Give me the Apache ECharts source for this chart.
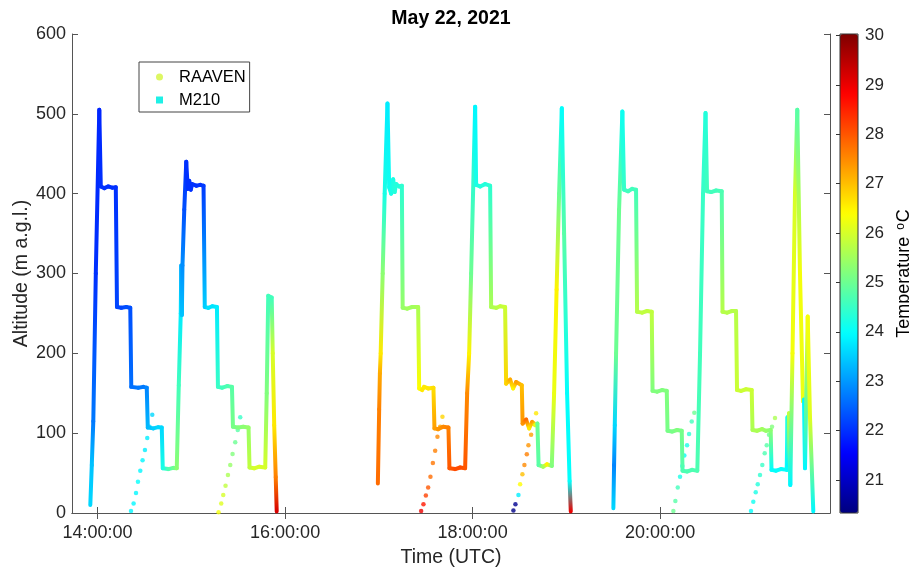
<!DOCTYPE html>
<html>
<head>
<meta charset="utf-8">
<script src="https://cdn.jsdelivr.net/npm/echarts@6/dist/echarts.min.js"></script>
<style>
  html, body { margin: 0; padding: 0; background: #fff; }
  #chart { width: 909px; height: 568px; }
</style>
</head>
<body>
<div id="chart"></div>
<script>
// Vertical profiles of air temperature from two UAS platforms, 22 May 2021.
// Each point: [time (UTC), altitude (m a.g.l.), temperature (°C)]

// RAAVEN fixed-wing ascents
const raavenProfile1 = [
  ['14:21:22', 2.5, 23.9], ['14:23:02', 12, 23.9], ['14:24:34', 25, 23.9], ['14:25:50', 39, 24.0],
  ['14:27:19', 53, 23.9], ['14:28:47', 66, 23.9], ['14:30:19', 79, 23.8], ['14:31:47', 94, 23.8],
  ['14:33:16', 108, 23.7], ['14:34:59', 123, 23.6]
];
const raavenProfile2 = [
  ['15:17:24', 1, 26.3], ['15:19:08', 12, 26.1], ['15:20:25', 22.5, 26.0], ['15:21:53', 34, 25.8],
  ['15:23:25', 47.6, 25.6], ['15:24:53', 60, 25.4], ['15:26:22', 74, 25.2], ['15:28:05', 88.6, 25.0],
  ['15:29:41', 104, 24.8], ['15:31:17', 120, 24.5]
];
const raavenProfile3 = [
  ['17:27:04', 2.5, 29.0], ['17:28:32', 11, 28.6], ['17:30:05', 22, 28.2], ['17:31:33', 32, 28.0],
  ['17:33:01', 45.5, 27.8], ['17:34:34', 62.5, 27.7], ['17:36:02', 78, 27.6], ['17:37:30', 95.6, 27.5],
  ['17:39:13', 108, 27.2], ['17:40:42', 120.6, 26.8]
];
const raavenProfile4 = [
  ['18:26:07', 3, 20.4], ['18:27:24', 11, 20.5], ['18:29:19', 22.5, 23.8], ['18:30:24', 36, 26.4],
  ['18:31:52', 48.5, 27.0], ['18:33:09', 60, 27.5], ['18:34:41', 73.5, 27.6], ['18:35:43', 85, 27.4],
  ['18:37:26', 98, 27.3], ['18:39:02', 112, 27.5], ['18:40:38', 125, 26.6]
];
const raavenProfile5 = [
  ['20:08:28', 2.5, 25.0], ['20:09:45', 15, 24.8], ['20:11:17', 32, 24.6], ['20:12:45', 45.5, 24.2],
  ['20:14:13', 59, 24.0], ['20:15:30', 72, 24.0], ['20:17:14', 85, 24.2], ['20:18:31', 99, 24.4],
  ['20:20:14', 114.5, 24.6], ['20:21:54', 125.5, 25.0]
];
const raavenProfile6 = [
  ['20:58:10', 2.5, 24.0], ['20:59:38', 14, 24.1], ['21:01:11', 26, 24.2], ['21:02:28', 36, 24.3],
  ['21:03:56', 47.6, 24.4], ['21:05:24', 60, 24.5], ['21:06:56', 75, 24.7], ['21:08:13', 85, 24.8],
  ['21:09:41', 98, 25.0], ['21:11:37', 108, 25.2], ['21:13:32', 119, 25.6]
];

// M210 multirotor flights (stepped hover profiles)
const m210Flight1 = [
  ['13:55:20', 10, 23.6], ['13:56:17', 60, 23.4], ['13:57:15', 115, 22.7], ['13:58:51', 300, 22.0],
  ['14:01:05', 505, 21.9], ['14:02:03', 409, 22.0], ['14:04:17', 407, 22.0], ['14:06:51', 409, 22.0],
  ['14:09:24', 407.5, 22.0], ['14:11:39', 408, 22.0], ['14:12:25', 258, 22.2], ['14:15:10', 257, 22.2],
  ['14:18:22', 258, 22.3], ['14:20:55', 257, 22.3], ['14:21:33', 158, 22.6], ['14:26:02', 157, 22.7],
  ['14:29:14', 158, 22.7], ['14:31:28', 157, 22.8], ['14:32:07', 107, 23.3], ['14:35:38', 106, 23.5],
  ['14:38:50', 107.5, 23.6], ['14:41:04', 107, 23.6], ['14:41:42', 56, 24.2], ['14:45:14', 55, 24.7],
  ['14:48:26', 56.5, 25.0], ['14:50:40', 56, 25.3], ['14:51:57', 160, 24.6], ['14:53:13', 250, 23.8],
  ['14:53:33', 310, 23.2], ['14:53:56', 248, 23.4], ['14:54:19', 310, 22.9], ['14:55:28', 380, 22.3],
  ['14:56:44', 440, 22.0], ['14:57:42', 406, 22.0], ['14:58:40', 416, 22.0], ['14:59:37', 405, 22.0],
  ['15:00:35', 412, 22.0], ['15:03:08', 410, 22.0], ['15:05:42', 411, 22.0], ['15:07:48', 410, 22.1],
  ['15:08:35', 258, 23.5], ['15:10:49', 257, 23.7], ['15:13:22', 259, 23.7], ['15:16:23', 258, 23.8],
  ['15:17:01', 158, 24.5], ['15:19:46', 157, 24.6], ['15:22:58', 159, 24.7], ['15:25:59', 158, 24.8],
  ['15:26:37', 108, 25.1], ['15:30:00', 107, 25.2], ['15:33:12', 108, 25.3], ['15:36:36', 107, 25.4],
  ['15:37:14', 57, 25.8], ['15:40:14', 56, 26.0], ['15:43:26', 58, 26.0], ['15:47:17', 57, 26.0],
  ['15:48:14', 150, 25.2], ['15:49:12', 272, 24.6], ['15:51:26', 270, 24.6], ['15:52:05', 200, 26.0],
  ['15:53:02', 110, 26.6], ['15:54:00', 45, 27.6], ['15:54:38', 2, 29.2]
];
const m210Flight2 = [
  ['16:59:22', 37, 27.8], ['17:00:12', 130, 27.6], ['17:00:40', 175, 27.2], ['17:01:10', 200, 26.6],
  ['17:02:27', 300, 25.3], ['17:03:43', 400, 24.2], ['17:05:31', 513, 23.8], ['17:06:36', 408, 24.1],
  ['17:07:53', 400, 24.2], ['17:09:10', 418, 24.2], ['17:10:07', 402, 24.3], ['17:11:05', 412, 24.3],
  ['17:13:00', 409, 24.3], ['17:14:44', 410, 24.4], ['17:15:14', 257, 25.4], ['17:18:07', 256, 25.5],
  ['17:21:19', 258, 25.5], ['17:25:09', 258, 25.6], ['17:25:48', 156, 26.4], ['17:27:43', 154, 26.6],
  ['17:28:59', 158, 26.6], ['17:31:33', 156, 26.6], ['17:34:56', 157, 26.7], ['17:35:35', 106, 27.3],
  ['17:37:57', 105, 27.4], ['17:41:09', 108, 27.5], ['17:44:32', 107, 27.6], ['17:45:10', 56, 28.0],
  ['17:48:49', 55, 28.1], ['17:52:01', 57, 28.1], ['17:55:13', 56, 28.0], ['17:56:30', 150, 27.5],
  ['17:57:47', 200, 26.5], ['17:59:03', 300, 25.0], ['18:01:37', 509, 23.9], ['18:02:15', 411, 24.2],
  ['18:04:49', 409, 24.3], ['18:08:01', 412, 24.3], ['18:11:13', 410, 24.4], ['18:11:51', 258, 25.6],
  ['18:15:03', 257, 25.7], ['18:17:36', 259, 25.8], ['18:20:48', 258, 25.9], ['18:21:27', 162, 26.8],
  ['18:24:00', 167, 27.2], ['18:25:55', 156, 26.5], ['18:27:51', 164, 27.3], ['18:31:29', 160, 27.0],
  ['18:32:00', 112, 27.4], ['18:34:14', 117, 27.8], ['18:36:10', 106, 26.6], ['18:38:05', 114, 27.3],
  ['18:40:00', 110, 26.2], ['18:41:28', 112, 25.0], ['18:42:14', 60, 24.8], ['18:45:07', 58, 25.5],
  ['18:47:40', 61, 26.5], ['18:50:41', 59, 25.2], ['18:52:09', 150, 26.2], ['18:53:45', 280, 26.5],
  ['18:55:21', 400, 25.0], ['18:57:05', 507, 24.0], ['18:58:33', 350, 24.8], ['19:00:28', 150, 24.0],
  ['19:02:04', 40, 24.0], ['19:02:50', 2, 29.0]
];
const m210Flight3 = [
  ['19:30:05', 6, 23.6], ['19:30:32', 60, 22.8], ['19:30:59', 110, 23.6], ['19:31:49', 200, 25.0],
  ['19:33:44', 380, 25.0], ['19:35:51', 503, 24.1], ['19:36:56', 405, 24.5], ['19:39:29', 403, 24.6],
  ['19:42:03', 406, 24.6], ['19:44:36', 405, 24.6], ['19:45:15', 252, 25.7], ['19:48:27', 251, 25.8],
  ['19:51:39', 253, 25.8], ['19:54:39', 252, 25.8], ['19:55:10', 153, 25.2], ['19:58:02', 152, 25.2],
  ['20:01:14', 154, 25.2], ['20:04:15', 153, 25.2], ['20:04:45', 103, 25.1], ['20:07:38', 102, 25.1],
  ['20:10:50', 104, 25.2], ['20:13:50', 103, 25.1], ['20:14:21', 53, 24.7], ['20:17:14', 52, 24.7],
  ['20:20:26', 54, 24.7], ['20:23:49', 53, 24.7], ['20:25:33', 200, 24.6], ['20:27:28', 400, 24.5],
  ['20:29:04', 501, 24.3], ['20:30:02', 403, 24.6], ['20:32:35', 402, 24.6], ['20:35:47', 404, 24.6],
  ['20:39:26', 403, 24.7], ['20:39:56', 252, 25.7], ['20:42:49', 251, 25.7], ['20:46:01', 253, 25.7],
  ['20:48:35', 253, 25.7], ['20:49:13', 154, 25.9], ['20:51:47', 153, 25.9], ['20:54:58', 155, 25.9],
  ['20:58:37', 154, 25.9], ['20:59:08', 104, 25.6], ['21:02:01', 103, 25.6], ['21:05:13', 105, 25.5],
  ['21:07:46', 103, 25.4], ['21:10:46', 104, 25.3], ['21:11:17', 54, 24.0], ['21:14:10', 53, 24.0],
  ['21:17:22', 55, 24.0], ['21:21:01', 54, 24.0], ['21:21:31', 120, 24.2], ['21:22:02', 60, 23.9],
  ['21:22:29', 125, 25.8], ['21:23:19', 35, 23.9], ['21:24:43', 200, 26.3], ['21:26:19', 400, 26.0],
  ['21:27:47', 505, 24.8], ['21:29:31', 300, 26.3], ['21:31:26', 140, 26.2], ['21:32:05', 142, 23.9],
  ['21:32:43', 56, 23.9], ['21:34:27', 246, 26.3], ['21:35:55', 120, 26.1], ['21:38:02', 2, 23.9]
];

// Axis ticks
const timeTicks = [14, 16, 18, 20];               // hours UTC
const altitudeTicks = [0, 100, 200, 300, 400, 500, 600];
const tempTicks = [21, 22, 23, 24, 25, 26, 27, 28, 29, 30];
const timeRange = [13.727, 21.812];
const tempRange = [20.33, 30.03];

// Jet colour map shared by the colour bar and the M210 tracks
const JET = ['#00007f', '#0000ff', '#007fff', '#00ffff', '#7fff7f', '#ffff00', '#ff7f00', '#ff0000', '#7f0000'];
function hexToRgb(h) { return [1, 3, 5].map(i => parseInt(h.substr(i, 2), 16)); }
const JET_RGB = JET.map(hexToRgb);
function jet(t) {
  let v = (t - tempRange[0]) / (tempRange[1] - tempRange[0]);
  v = Math.max(0, Math.min(1, v));
  const p = v * (JET_RGB.length - 1);
  const i = Math.min(JET_RGB.length - 2, Math.floor(p));
  const f = p - i;
  const a = JET_RGB[i], b = JET_RGB[i + 1];
  const c = a.map((x, k) => Math.round(x + (b[k] - x) * f));
  return 'rgb(' + c.join(',') + ')';
}

function toHours(s) {
  const [h, m, sec] = s.split(':').map(Number);
  return h + m / 60 + sec / 3600;
}
function parse(arr) { return arr.map(d => [toHours(d[0]), d[1], d[2]]); }

const raavenData = [].concat(
  parse(raavenProfile1), parse(raavenProfile2), parse(raavenProfile3),
  parse(raavenProfile4), parse(raavenProfile5), parse(raavenProfile6)
);
const m210Flights = [m210Flight1, m210Flight2, m210Flight3].map(parse);

// Each data item draws the segment to the next sample, shaded by temperature
function trackRenderer(points) {
  return function (params, api) {
    const i = params.dataIndex;
    if (i >= points.length - 1) return null;
    const a = api.coord([api.value(0), api.value(1)]);
    const b = api.coord([points[i + 1][0], points[i + 1][1]]);
    return {
      type: 'line',
      shape: { x1: a[0], y1: a[1], x2: b[0], y2: b[1] },
      style: {
        stroke: {
          type: 'linear', global: true,
          x: a[0], y: a[1], x2: b[0], y2: b[1] + 0.001,
          colorStops: [
            { offset: 0, color: jet(api.value(2)) },
            { offset: 1, color: jet(points[i + 1][2]) }
          ]
        },
        lineWidth: 4,
        lineCap: 'round',
        lineJoin: 'round'
      }
    };
  };
}

const FONT = '"Liberation Sans", Arial, Helvetica, sans-serif';
const INK = '#262626';
const AXIS_LINE = { show: true, lineStyle: { color: '#555', width: 1 } };

const pad2 = n => String(n).padStart(2, '0');

const chart = echarts.init(document.getElementById('chart'), null, { renderer: 'canvas' });

const series = [
  {
    name: 'RAAVEN',
    type: 'scatter',
    data: raavenData,
    symbol: 'circle',
    symbolSize: 4.5,
    itemStyle: { color: '#d4f53c' },
    z: 2,
    silent: true
  }
].concat(m210Flights.map(pts => ({
  name: 'M210',
  type: 'custom',
  data: pts,
  encode: { x: 0, y: 1 },
  renderItem: trackRenderer(pts),
  itemStyle: { color: '#1ef0e6' },
  z: 3,
  silent: true
})));

chart.setOption({
  animation: false,
  backgroundColor: '#fff',
  textStyle: { fontFamily: FONT },
  title: {
    text: 'May 22, 2021',
    left: 451,
    textAlign: 'center',
    top: 9,
    padding: 0,
    textStyle: { fontFamily: FONT, fontSize: 19.5, fontWeight: 'bold', color: '#000' }
  },
  legend: {
    orient: 'vertical',
    left: 139,
    top: 62,
    padding: [6, 4, 3, 17],
    itemGap: 5,
    itemWidth: 7,
    itemHeight: 7,
    borderColor: '#444',
    borderWidth: 1,
    backgroundColor: '#fff',
    data: [
      { name: 'RAAVEN', icon: 'circle', itemStyle: { color: '#d4f53c' } },
      { name: 'M210', icon: 'rect', itemStyle: { color: '#1ef0e6' } }
    ],
    textStyle: { fontFamily: FONT, fontSize: 16.5, color: '#000', lineHeight: 18, padding: [0, 0, 0, 11] }
  },
  grid: [
    { left: 72, right: 79, top: 34, bottom: 55, outerBoundsMode: 'none' },
    { left: 840, width: 18, top: 34, height: 479, outerBoundsMode: 'none',
      show: true, borderColor: '#333', borderWidth: 1, backgroundColor: 'rgba(0,0,0,0)', z: 6 }
  ],
  xAxis: [
    {
      type: 'value', gridIndex: 0, min: timeRange[0], max: timeRange[1],
      name: 'Time (UTC)', nameLocation: 'middle', nameGap: 35, nameMoveOverlap: false,
      nameTextStyle: { fontFamily: FONT, fontSize: 19.5, color: INK },
      axisLine: AXIS_LINE,
      axisTick: { show: true, inside: true, length: 6, customValues: timeTicks, lineStyle: { color: '#555' } },
      axisLabel: { customValues: timeTicks, margin: 11, fontFamily: FONT, fontSize: 18, color: INK,
        formatter: v => pad2(Math.round(v)) + ':00:00' },
      splitLine: { show: false }
    },
    {
      type: 'value', gridIndex: 0, position: 'top', min: timeRange[0], max: timeRange[1],
      axisLine: AXIS_LINE,
      axisTick: { show: true, inside: true, length: 6, customValues: timeTicks, lineStyle: { color: '#555' } },
      axisLabel: { show: false },
      splitLine: { show: false }
    },
    {
      type: 'value', gridIndex: 1, min: 0, max: 1, show: false
    }
  ],
  yAxis: [
    {
      type: 'value', gridIndex: 0, min: 0, max: 600, interval: 100,
      name: 'Altitude (m a.g.l.)', nameLocation: 'middle', nameGap: 40, nameMoveOverlap: false,
      nameTextStyle: { fontFamily: FONT, fontSize: 19.5, color: INK },
      axisLine: AXIS_LINE,
      axisTick: { show: true, inside: true, length: 6, lineStyle: { color: '#555' } },
      axisLabel: { margin: 6, fontFamily: FONT, fontSize: 18, color: INK,
        formatter: v => altitudeTicks.includes(v) ? String(v) : '' },
      splitLine: { show: false }
    },
    {
      type: 'value', gridIndex: 0, position: 'right', min: 0, max: 600, interval: 100,
      axisLine: AXIS_LINE,
      axisTick: { show: true, inside: true, length: 6, lineStyle: { color: '#555' } },
      axisLabel: { show: false },
      splitLine: { show: false }
    },
    {
      type: 'value', gridIndex: 1, position: 'right', min: tempRange[0], max: tempRange[1],
      name: 'Temperature {sup|o}C', nameLocation: 'middle', nameGap: 37, nameRotate: 90, nameMoveOverlap: false,
      nameTextStyle: { fontFamily: FONT, fontSize: 18, color: '#000',
        rich: { sup: { fontFamily: FONT, fontSize: 12, color: '#000', verticalAlign: 'top', padding: [0, 1, 7, 2] } } },
      axisLine: { show: false },
      axisTick: { show: true, inside: true, length: 4, customValues: tempTicks, lineStyle: { color: '#333' } },
      axisLabel: { customValues: tempTicks, margin: 7, fontFamily: FONT, fontSize: 17, color: INK },
      splitLine: { show: false },
      z: 8
    }
  ],
  visualMap: {
    type: 'continuous',
    min: tempRange[0],
    max: tempRange[1],
    dimension: 2,
    seriesIndex: 0,
    calculable: false,
    realtime: false,
    left: 840,
    top: 34,
    padding: 0,
    itemWidth: 18,
    itemHeight: 479,
    text: null,
    inRange: { color: JET },
    z: 4
  },
  series: series
});
</script>
</body>
</html>
